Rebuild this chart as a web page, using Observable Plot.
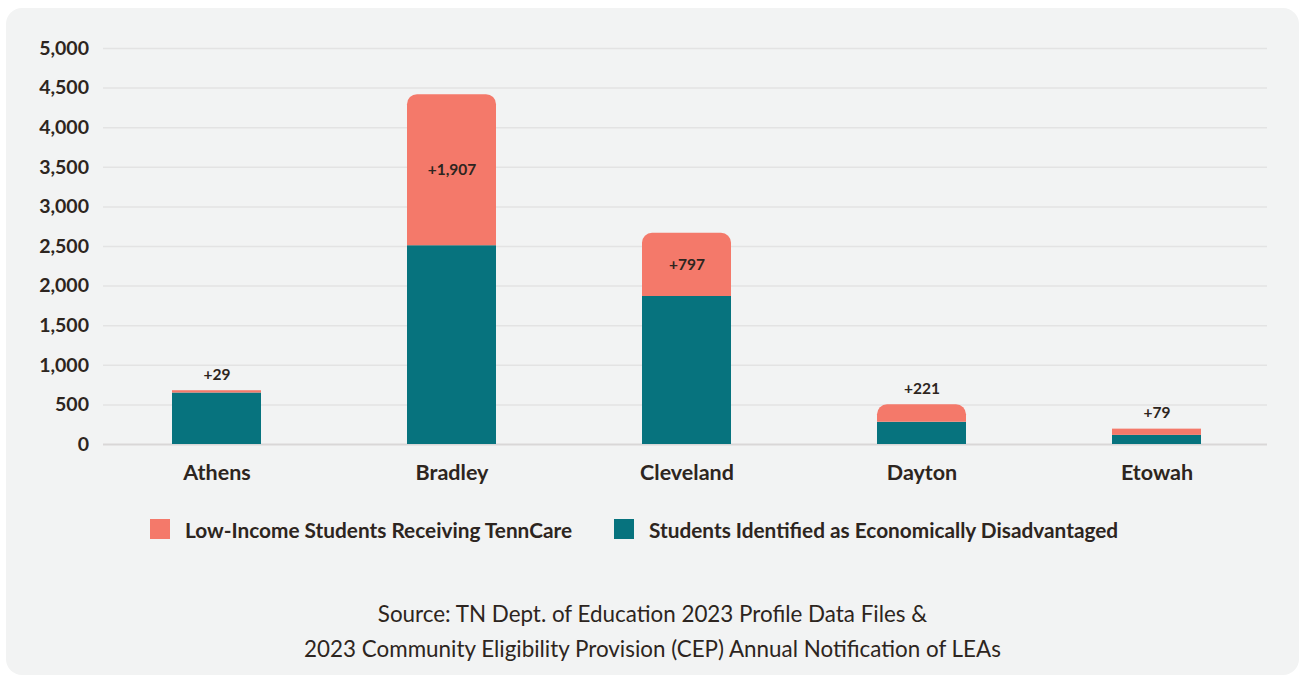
<!DOCTYPE html>
<html><head><meta charset="utf-8">
<script src="https://cdn.jsdelivr.net/npm/d3@7"></script>
<script src="https://cdn.jsdelivr.net/npm/@observablehq/plot@0.6"></script>
<style>
html,body{margin:0;padding:0;background:#fff;}
#card{position:absolute;left:6px;top:8px;width:1293px;height:667px;background:#f2f3f3;border-radius:16px;font-family:Lato,sans-serif;color:#2d2520;overflow:hidden;}
#chart{position:absolute;left:0;top:0;}
#legend{position:absolute;top:511px;left:0;width:100%;height:20px;}
.item{position:absolute;top:0;height:20px;display:flex;align-items:center;font-weight:700;font-size:20.8px;white-space:nowrap;}
.sw{width:20px;height:20px;margin-right:15px;flex:none;}
#source{position:absolute;top:588px;left:0;width:100%;text-align:center;font-size:22.4px;line-height:35px;}
</style></head>
<body>
<div id="card">
  <div id="chart"></div>
  <div id="legend"></div>
  <div id="source">Source: TN Dept. of Education 2023 Profile Data Files &amp;<br>2023 Community Eligibility Provision (CEP) Annual Notification of LEAs</div>
</div>
<script>
const districts = ["Athens", "Bradley", "Cleveland", "Dayton", "Etowah"];
const econDisadvantaged = [650, 2510, 1870, 280, 115];
const tennCareAdded = [29, 1907, 797, 221, 79];
const yTicks = [0, 500, 1000, 1500, 2000, 2500, 3000, 3500, 4000, 4500, 5000];
const seriesNames = ["Low-Income Students Receiving TennCare", "Students Identified as Economically Disadvantaged"];
const seriesColors = ["#f4796a", "#07737e"];

const rows = districts.map((d, i) => ({
  district: d,
  base: econDisadvantaged[i],
  added: tennCareAdded[i],
  total: econDisadvantaged[i] + tennCareAdded[i]
}));
const big = rows.filter(r => r.added >= 150);
const small = rows.filter(r => r.added < 150);
const inside = rows.filter(r => r.added >= 500);
const above = rows.filter(r => r.added < 500);
const fmt = d3.format(",");

const chart = Plot.plot({
  width: 1293,
  height: 486,
  marginTop: 40,
  marginBottom: 50,
  marginLeft: 92.5,
  marginRight: 24.5,
  style: {background: "transparent", fontFamily: "Lato, sans-serif", color: "#2d2520", overflow: "visible"},
  x: {domain: districts, paddingInner: 0.62, paddingOuter: 0.31, axis: null},
  y: {domain: [0, 5000], axis: null},
  marks: [
    Plot.ruleY(yTicks.filter(t => t > 0), {stroke: "#e3e3e3", strokeWidth: 1.5, insetLeft: 4.5, insetRight: 7.5}),
    Plot.ruleY([0], {stroke: "#d9d7d7", strokeWidth: 2, insetLeft: 4.5, insetRight: 7.5}),
    Plot.axisY({ticks: yTicks, tickFormat: fmt, tickSize: 0, tickPadding: 10, fontSize: 19.5, fontWeight: 700, label: null}),
    Plot.axisX({tickSize: 0, tickPadding: 20, fontSize: 21.5, fontWeight: 700, label: null}),
    Plot.barY(rows, {x: "district", y1: 0, y2: "base", fill: seriesColors[1]}),
    Plot.barY(big, {x: "district", y1: "base", y2: "total", fill: seriesColors[0], ry1: 10}),
    Plot.barY(small, {x: "district", y1: "base", y2: "total", fill: seriesColors[0]}),
    Plot.text(inside, {x: "district", y: r => r.base + r.added / 2, text: r => "+" + fmt(r.added), fontSize: 15.5, fontWeight: 700, fill: "#2d2520"}),
    Plot.text(above, {x: "district", y: "total", text: r => "+" + fmt(r.added), dy: -16, fontSize: 15.5, fontWeight: 700, fill: "#2d2520"})
  ]
});
document.getElementById("chart").appendChild(chart);

const legend = document.getElementById("legend");
const legendLeft = [144, 608];
seriesNames.forEach((name, i) => {
  const item = document.createElement("div");
  item.className = "item";
  item.style.left = legendLeft[i] + "px";
  const sw = document.createElement("div");
  sw.className = "sw";
  sw.style.background = seriesColors[i];
  item.appendChild(sw);
  item.appendChild(document.createTextNode(name));
  legend.appendChild(item);
});
</script>
</body></html>
